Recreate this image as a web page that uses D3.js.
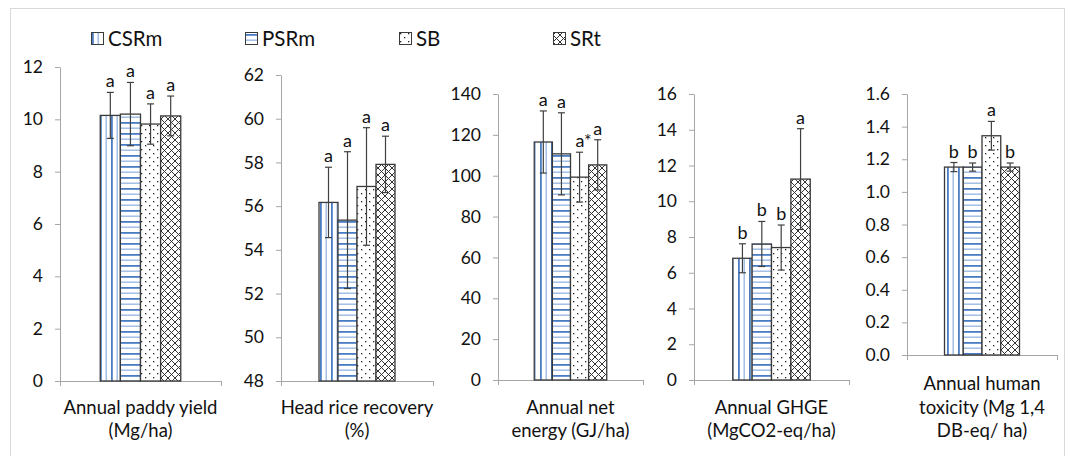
<!DOCTYPE html>
<html>
<head>
<meta charset="utf-8">
<script src="https://cdn.jsdelivr.net/npm/d3@7"></script>
<style>
  body { margin: 0; background: #fff; }
  svg text { font-family: Lato, "Open Sans", sans-serif; fill: #111; }
</style>
</head>
<body>
<div id="chart"></div>
<script>
// treatments (legend order)
const series = ["CSRm", "PSRm", "SB", "SRt"];

// one panel per indicator
const categories = [
  ["Annual paddy yield", "(Mg/ha)"],
  ["Head rice recovery", "(%)"],
  ["Annual net", "energy (GJ/ha)"],
  ["Annual GHGE", "(MgCO2-eq/ha)"],
  ["Annual human", "toxicity (Mg 1,4", "DB-eq/ ha)"]
];

// means, per treatment, per panel
const csrmMean = [10.15, 56.17, 116.5, 6.81, 1.152];
const psrmMean = [10.20, 55.36, 110.7, 7.61, 1.152];
const sbMean   = [9.82, 56.90, 99.3, 7.41, 1.344];
const srtMean  = [10.13, 57.91, 105.3, 11.24, 1.152];

// error bar half lengths
const csrmErr = [0.88, 1.61, 15.2, 0.81, 0.028];
const psrmErr = [1.21, 3.13, 20.1, 1.26, 0.025];
const sbErr   = [0.77, 2.69, 12.2, 1.26, 0.088];
const srtErr  = [0.76, 1.29, 12.3, 2.82, 0.025];

// significance letters
const csrmLetters = ["a", "a", "a", "b", "b"];
const psrmLetters = ["a", "a", "a", "b", "b"];
const sbLetters   = ["a", "a", "a*", "b", "a"];
const srtLetters  = ["a", "a", "a", "a", "b"];

// y axes
const yDomains = [[0, 12], [48, 62], [0, 140], [0, 16], [0, 1.6]];
const yTickValues = [
  [0, 2, 4, 6, 8, 10, 12],
  [48, 50, 52, 54, 56, 58, 60, 62],
  [0, 20, 40, 60, 80, 100, 120, 140],
  [0, 2, 4, 6, 8, 10, 12, 14, 16],
  [0, 0.2, 0.4, 0.6, 0.8, 1.0, 1.2, 1.4, 1.6]
];
const yTickFormats = ["d", "d", "d", "d", ".1f"];

const means = [csrmMean, psrmMean, sbMean, srtMean];
const errs = [csrmErr, psrmErr, sbErr, srtErr];
const letters = [csrmLetters, psrmLetters, sbLetters, srtLetters];

// plot areas (pixel layout of each small chart)
const panels = [
  { x0: 60, x1: 221, top: 67, bottom: 381 },
  { x0: 281, x1: 433, top: 75, bottom: 381 },
  { x0: 498, x1: 643, top: 94, bottom: 380 },
  { x0: 694, x1: 849, top: 94, bottom: 380 },
  { x0: 907, x1: 1057, top: 94, bottom: 355 }
];

const width = 1070, height = 456;
const axisColor = "#a6a6a6";
const edge = "#3a3a3a";

const svg = d3.select("#chart").append("svg")
  .attr("width", width)
  .attr("height", height);

svg.append("rect")
  .attr("width", width).attr("height", height)
  .attr("fill", "#fff");

// outer chart frame
svg.append("rect")
  .attr("x", 10.5).attr("y", 8.5)
  .attr("width", 1054).attr("height", 460)
  .attr("fill", "none")
  .attr("stroke", "#d9d9d9");

// fill patterns
const defs = svg.append("defs");

const pv = defs.append("pattern").attr("id", "pat-CSRm")
  .attr("patternUnits", "userSpaceOnUse").attr("width", 11).attr("height", 4);
pv.append("rect").attr("width", 11).attr("height", 4).attr("fill", "#fff");
pv.append("rect").attr("x", 1).attr("width", 1.8).attr("height", 4).attr("fill", "#4a7cc4");
pv.append("rect").attr("x", 6.5).attr("width", 1.4).attr("height", 4).attr("fill", "#9dbae4");

const ph = defs.append("pattern").attr("id", "pat-PSRm")
  .attr("patternUnits", "userSpaceOnUse").attr("width", 4).attr("height", 11);
ph.append("rect").attr("width", 4).attr("height", 11).attr("fill", "#fff");
ph.append("rect").attr("y", 1).attr("width", 4).attr("height", 1.8).attr("fill", "#4a7cc4");
ph.append("rect").attr("y", 6.5).attr("width", 4).attr("height", 1.4).attr("fill", "#9dbae4");

const pd = defs.append("pattern").attr("id", "pat-SB")
  .attr("patternUnits", "userSpaceOnUse").attr("width", 8).attr("height", 8);
pd.append("rect").attr("width", 8).attr("height", 8).attr("fill", "#fff");
pd.append("rect").attr("x", 1).attr("y", 1).attr("width", 1.3).attr("height", 1.3).attr("fill", "#222");
pd.append("rect").attr("x", 5).attr("y", 5).attr("width", 1.3).attr("height", 1.3).attr("fill", "#222");

const px = defs.append("pattern").attr("id", "pat-SRt")
  .attr("patternUnits", "userSpaceOnUse").attr("width", 7).attr("height", 7);
px.append("rect").attr("width", 7).attr("height", 7).attr("fill", "#fff");
px.append("path").attr("d", "M0,0L7,7M7,0L0,7M-1,6L1,8M6,-1L8,1M-1,1L1,-1M6,8L8,6")
  .attr("stroke", "#333").attr("stroke-width", 1);

// legend
const legend = svg.append("g").selectAll("g")
  .data(series)
  .enter().append("g")
  .attr("transform", (d, i) => `translate(${91 + i * 154},0)`);
legend.append("rect")
  .attr("x", 0.5).attr("y", 32.5)
  .attr("width", 12).attr("height", 12)
  .attr("fill", d => `url(#pat-${d})`)
  .attr("stroke", edge).attr("stroke-width", 1);
legend.append("text")
  .attr("x", 17).attr("y", 45.5)
  .attr("font-size", "20.5px")
  .text(d => d);

// draw each panel
panels.forEach((p, k) => {
  const g = svg.append("g");

  const y = d3.scaleLinear().domain(yDomains[k]).range([p.bottom, p.top]);
  const w = p.x1 - p.x0;
  const x = d3.scaleBand().domain(series)
    .range([p.x0 + w * 0.25, p.x1 - w * 0.25]);

  // y axis
  const yAxis = g.append("g")
    .attr("transform", `translate(${p.x0},0)`)
    .call(d3.axisLeft(y)
      .tickValues(yTickValues[k])
      .tickFormat(d3.format(yTickFormats[k]))
      .tickSize(5).tickSizeOuter(0).tickPadding(12));
  yAxis.selectAll("path, line").attr("stroke", axisColor);
  yAxis.selectAll("text").attr("font-size", "17.5px").attr("font-family", "Lato").attr("fill", "#111");

  // category axis (ticks at panel edges)
  const xl = d3.scaleLinear().domain([0, 1]).range([p.x0, p.x1]);
  const xAxis = g.append("g")
    .attr("transform", `translate(0,${p.bottom})`)
    .call(d3.axisBottom(xl).tickValues([0, 1]).tickFormat("").tickSize(5).tickSizeOuter(0));
  xAxis.selectAll("path, line").attr("stroke", axisColor);

  const rows = series.map((s, i) => ({
    s, m: means[i][k], e: errs[i][k], l: letters[i][k]
  }));

  // bars
  g.append("g").selectAll("rect")
    .data(rows)
    .enter().append("rect")
    .attr("x", d => x(d.s))
    .attr("y", d => y(d.m))
    .attr("width", x.bandwidth())
    .attr("height", d => y(yDomains[k][0]) - y(d.m))
    .attr("fill", d => `url(#pat-${d.s})`)
    .attr("stroke", edge)
    .attr("stroke-width", 1.3);

  // error bars
  const eb = g.append("g").selectAll("g")
    .data(rows)
    .enter().append("g")
    .attr("stroke", "#404040")
    .attr("stroke-width", 1.2);
  const cx = d => x(d.s) + x.bandwidth() / 2;
  eb.append("line")
    .attr("x1", cx).attr("x2", cx)
    .attr("y1", d => y(d.m + d.e)).attr("y2", d => y(d.m - d.e));
  eb.append("line")
    .attr("x1", d => cx(d) - 3.5).attr("x2", d => cx(d) + 3.5)
    .attr("y1", d => y(d.m + d.e)).attr("y2", d => y(d.m + d.e));
  eb.append("line")
    .attr("x1", d => cx(d) - 3.5).attr("x2", d => cx(d) + 3.5)
    .attr("y1", d => y(d.m - d.e)).attr("y2", d => y(d.m - d.e));

  // letters
  g.append("g").selectAll("text")
    .data(rows)
    .enter().append("text")
    .attr("x", d => cx(d) + (d.l.length > 1 ? 4 : 0))
    .attr("y", d => y(d.m + d.e) - 5)
    .attr("text-anchor", "middle")
    .attr("font-size", "18px")
    .text(d => d.l);

  // category label
  const lines = categories[k];
  g.append("g").selectAll("text")
    .data(lines)
    .enter().append("text")
    .attr("x", (p.x0 + p.x1) / 2)
    .attr("y", (d, i) => 437 - (lines.length - 1 - i) * 23.5)
    .attr("text-anchor", "middle")
    .attr("font-size", "18.5px")
    .text(d => d);
});
</script>
</body>
</html>
